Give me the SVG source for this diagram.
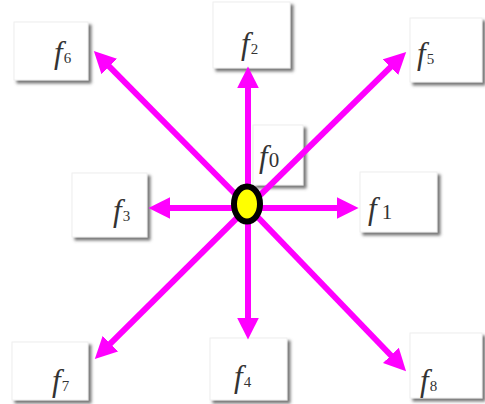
<svg xmlns="http://www.w3.org/2000/svg" width="485" height="404" viewBox="0 0 485 404">
<defs>
<filter id="sh" x="-20%" y="-20%" width="150%" height="150%">
<feDropShadow dx="3" dy="3" stdDeviation="1.8" flood-color="#666" flood-opacity="0.9"/>
</filter>
<marker id="ah" markerUnits="userSpaceOnUse" markerWidth="22" markerHeight="22" viewBox="0 0 20 20" refX="4" refY="10" orient="auto">
<path d="M0,0 L20,10 L0,20 z" fill="#ff00ff"/>
</marker>
</defs>
<style>
.box{fill:#fff;stroke:#eeeeee;stroke-width:1;filter:url(#sh)}
.f{font-family:"Liberation Serif",serif;font-style:italic;font-size:31px;fill:#333}
.s{font-style:normal;font-size:15px}
.b{font-style:normal;font-size:21px}
.arr{stroke:#ff00ff;stroke-width:6;fill:none;marker-end:url(#ah)}
</style>
<rect width="485" height="404" fill="#fff"/>
<g id="n6"><rect class="box" x="14" y="22" width="74" height="58"/><text class="f" x="54" y="63">f<tspan class="s" dx="1">6</tspan></text></g>
<g id="n2"><rect class="box" x="213" y="2" width="77" height="66"/><text class="f" x="241" y="54">f<tspan class="s" dx="1">2</tspan></text></g>
<g id="n5"><rect class="box" x="410" y="18" width="72" height="64"/><text class="f" x="417" y="64">f<tspan class="s" dx="1">5</tspan></text></g>
<g id="n3"><rect class="box" x="72" y="173" width="75" height="64"/><text class="f" x="113" y="221">f<tspan class="s" dx="1">3</tspan></text></g>
<g id="n0"><rect class="box" x="253" y="125" width="50" height="60"/><text class="f" x="259" y="167">f<tspan class="b" dx="1">0</tspan></text></g>
<g id="n1"><rect class="box" x="360" y="172" width="77" height="60"/><text class="f" x="368" y="219">f<tspan class="b" dx="5">1</tspan></text></g>
<g id="n7"><rect class="box" x="12" y="342" width="76" height="58"/><text class="f" x="52" y="391">f<tspan class="s" dx="1">7</tspan></text></g>
<g id="n4"><rect class="box" x="210" y="338" width="77" height="62"/><text class="f" x="234" y="387">f<tspan class="s" dx="1">4</tspan></text></g>
<g id="n8"><rect class="box" x="410" y="333" width="72" height="65"/><text class="f" x="420" y="391">f<tspan class="s" dx="1">8</tspan></text></g>
<g id="connectors">
<line class="arr" x1="248" y1="207" x2="106.2" y2="63.4"/>
<line class="arr" x1="248" y1="207" x2="248" y2="84"/>
<line class="arr" x1="248" y1="207" x2="393.6" y2="64.2"/>
<line class="arr" x1="248" y1="208" x2="166" y2="208"/>
<line class="arr" x1="248" y1="208" x2="341" y2="208"/>
<line class="arr" x1="248" y1="207" x2="107.3" y2="346.7"/>
<line class="arr" x1="248" y1="207" x2="248" y2="322"/>
<line class="arr" x1="248" y1="207" x2="393.9" y2="358.5"/>
</g>
<g id="center"><ellipse cx="247" cy="204" rx="13" ry="17.5" fill="#ffff00" stroke="#000" stroke-width="6"/></g>
</svg>
